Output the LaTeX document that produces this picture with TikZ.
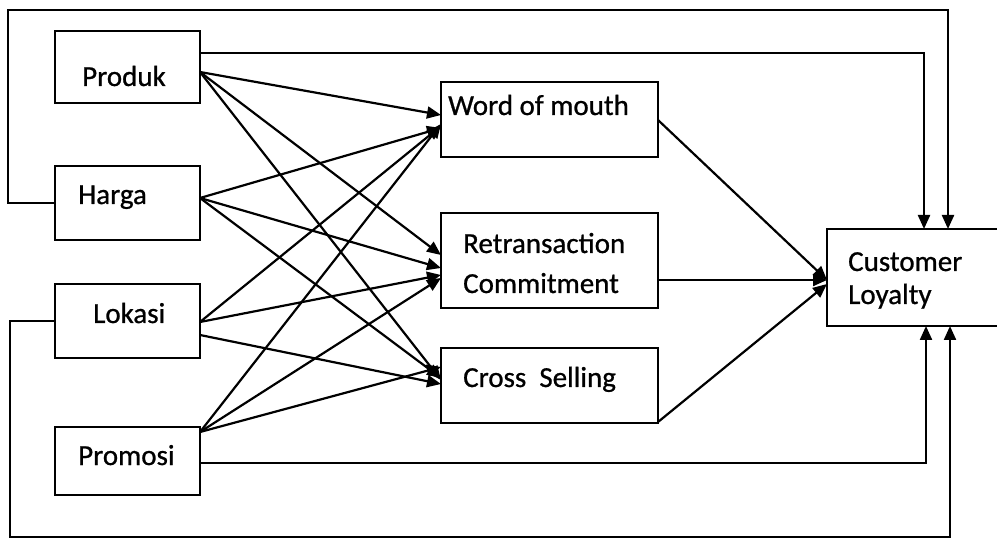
\documentclass[tikz,border=0pt]{standalone}
\usepackage{fontspec}
\setmainfont{Carlito}
\newfontfamily\heavyfont{Carlito}[FakeBold=0.8]
\usetikzlibrary{arrows.meta}
\begin{document}
\begin{tikzpicture}[x=1pt,y=-1pt,
  box/.style={draw, line width=2.4pt, inner sep=0pt, outer sep=0pt},
  lbl/.style={anchor=base west, inner sep=0pt, font=\heavyfont\fontsize{29}{34}\selectfont},
  conn/.style={line width=2.2pt},
  arr/.style={conn, -{Triangle[length=14pt,width=12pt]}}]
\useasboundingbox (0,0) rectangle (997,540);
% boxes
\node[box, minimum width=145pt, minimum height=72pt] (produk) at (127.5,67) {};
\node[box, minimum width=145pt, minimum height=74pt] (harga) at (127.5,203) {};
\node[box, minimum width=145pt, minimum height=74pt] (lokasi) at (127.5,321) {};
\node[box, minimum width=145pt, minimum height=68pt] (promosi) at (127.5,461) {};
\node[box, minimum width=217pt, minimum height=75pt] (wom) at (549.5,119.5) {};
\node[box, minimum width=217pt, minimum height=95pt] (ret) at (549.5,260.5) {};
\node[box, minimum width=217pt, minimum height=75pt] (cross) at (549.5,385.5) {};
\node[box, minimum width=178pt, minimum height=97pt] (cust) at (916,277.5) {};
% labels
\node[lbl] (tProduk) at (82,86) {Produk};
\node[lbl] (tHarga) at (78,204) {Harga};
\node[lbl] (tLokasi) at (93,323) {Lokasi};
\node[lbl] (tPromosi) at (78,465) {Promosi};
\node[lbl] (tWom) at (448,115) {Word of mouth};
\node[lbl] (tRet) at (463,253) {Retransaction};
\node[lbl] (tCom) at (463,293) {Commitment};
\node[lbl] (tCross) at (463,387) {Cross\ \ Selling};
\node[lbl] (tCust) at (848,271) {Customer};
\node[lbl] (tLoy) at (848,304) {Loyalty};
% source points
\coordinate (pP) at (200,72);
\coordinate (pPtop) at (200,53);
\coordinate (pH) at (200,198);
\coordinate (pL1) at (200,322);
\coordinate (pL2) at (200,335);
\coordinate (pPr) at (200,432);
\coordinate (pPr2) at (200,463);
% target points
\coordinate (wA) at (441,115);
\coordinate (wB) at (441,128);
\coordinate (wC) at (441,126);
\coordinate (wD) at (441,124);
\coordinate (rA) at (441,255);
\coordinate (rB) at (441,268);
\coordinate (rC) at (441,275);
\coordinate (rD) at (441,278);
\coordinate (cA) at (441,380);
\coordinate (cB) at (441,378);
\coordinate (cC) at (441,384);
\coordinate (cD) at (441,367);
% middle outputs
\coordinate (wO) at (658,120);
\coordinate (rO) at (658,280);
\coordinate (cO) at (658,422);
\coordinate (custL) at (827,280);
\coordinate (custL2) at (827,284);
\coordinate (cT1) at (924,229);
\coordinate (cT2) at (948,229);
\coordinate (cB1) at (926,326);
\coordinate (cB2) at (950,326);
% fan connectors
\draw[arr] (pP) -- (wA);
\draw[arr] (pP) -- (rA);
\draw[arr] (pP) -- (cA);
\draw[arr] (pH) -- (wB);
\draw[arr] (pH) -- (rB);
\draw[arr] (pH) -- (cB);
\draw[arr] (pL1) -- (wC);
\draw[arr] (pL1) -- (rC);
\draw[arr] (pL2) -- (cC);
\draw[arr] (pPr) -- (wD);
\draw[arr] (pPr) -- (rD);
\draw[arr] (pPr) -- (cD);
% middle to customer
\draw[arr] (wO) -- (custL);
\draw[arr] (rO) -- (custL);
\draw[arr] (cO) -- (custL2);
% direct paths
\draw[arr] (pPtop) -- (924,53) -- (cT1);
\draw[arr] (harga.west) -- (8,203) -- (8,10) -- (948,10) -- (cT2);
\draw[arr] (pPr2) -- (926,463) -- (cB1);
\draw[arr] (lokasi.west) -- (10,321) -- (10,537) -- (950,537) -- (cB2);
\end{tikzpicture}
\end{document}
